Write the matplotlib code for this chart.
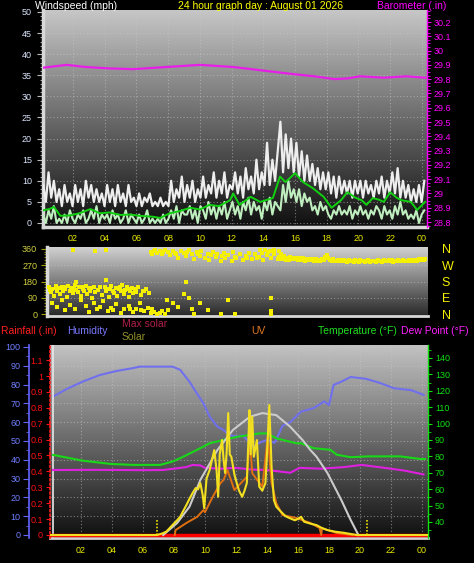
import numpy as np
import matplotlib
matplotlib.use('Agg')
import matplotlib.pyplot as plt
from matplotlib.ticker import MultipleLocator, FixedLocator

plt.rcParams['font.family'] = ['Liberation Sans', 'DejaVu Sans']

# ---------------- data ----------------
hour_ticks = [2, 4, 6, 8, 10, 12, 14, 16, 18, 20, 22, 24]
hour_labels = ['02', '04', '06', '08', '10', '12', '14', '16', '18', '20', '22', '00']

# wind gust (mph), 10-minute samples
gust = [9, 5, 12, 6, 10, 5,   8, 4, 9, 5, 7, 4,   9, 5, 8, 4, 10, 6,   9, 5, 8, 5, 7, 4,
        9, 5, 8, 4, 9, 5,     7, 4, 9, 5, 6, 4,   7, 4, 6, 5, 7, 4,    5, 4, 6, 4, 5, 4,
        10, 5, 8, 6, 11, 5,   9, 6, 10, 5, 8, 6,  11, 6, 9, 7, 12, 6,  10, 7, 12, 6, 9, 8,
        12, 7, 11, 6, 13, 8,  11, 7, 15, 8, 12, 9, 19, 9, 15, 10, 17, 24, 12, 21, 13, 20, 12, 19,
        11, 17, 10, 16, 10, 14, 9, 13, 8, 12, 8, 12, 7, 11, 6, 11, 7, 10, 7, 10, 6, 10, 7, 10,
        6, 10, 7, 9, 6, 10,   7, 11, 6, 10, 7, 12, 7, 13, 6, 10, 6, 9,  5, 8, 5, 9, 5, 10]
# wind speed (mph), 10-minute samples
wind = [2, 0, 3, 1, 4, 0,  1, 0, 2, 0, 3, 1,  0, 2, 1, 3, 0, 1,  3, 1, 4, 0, 2, 1,
        2, 0, 3, 1, 2, 0,  1, 3, 0, 2, 1, 0,  2, 0, 1, 3, 0, 1,  0, 1, 0, 2, 0, 1,
        3, 1, 4, 0, 3, 2,  2, 4, 1, 3, 0, 4,  3, 1, 5, 2, 4, 1,  4, 2, 5, 1, 3, 5,
        2, 4, 1, 5, 3, 6,  2, 5, 3, 4, 1, 5,  3, 6, 2, 5, 4, 3,  9, 5, 10, 6, 8, 5,
        8, 4, 7, 5, 6, 3,  4, 2, 5, 3, 4, 2,  1, 3, 2, 4, 2, 3,  2, 4, 1, 3, 2, 4,
        2, 3, 1, 3, 2, 4,  3, 1, 4, 2, 3, 1,  4, 2, 5, 2, 3, 1,  2, 1, 3, 0, 2, 3]

avg_t = [0.1, 0.5, 0.8, 1.2, 1.8, 2.4, 3.1, 3.7, 4.3, 5.0, 5.6, 6.2, 7.0, 7.5, 8.1, 8.7,
         9.4, 10.0, 10.6, 11.2, 11.9, 12.1, 12.5, 13.2, 13.8, 14.6, 15.05, 15.4, 16.0, 16.5,
         17.1, 17.8, 18.3, 18.9, 19.3, 19.8, 20.2, 20.5, 20.9, 21.3, 21.6, 22.0, 22.4, 22.7,
         23.3, 23.7, 24.2]
avg = [3.0, 3.3, 3.8, 1.7, 1.8, 2.3, 3.3, 2.3, 2.5, 1.9, 2.0, 1.7, 1.5, 1.2, 2.3, 2.8,
       3.6, 3.2, 4.3, 4.0, 5.4, 7.0, 4.3, 6.2, 5.0, 5.9, 11.0, 9.7, 11.8, 9.7,
       8.3, 6.2, 3.6, 5.4, 7.3, 6.0, 5.4, 4.3, 5.9, 5.5, 5.0, 7.3, 6.0, 5.4,
       5.0, 3.1, 5.0]

baro_t = [0.1, 1.6, 2.8, 4.3, 5.8, 7.9, 10.0, 12.1, 14.0, 15.9, 17.2, 18.5, 19.3, 20.1, 21.6, 23.0, 24.2]
baro = [29.88, 29.90, 29.885, 29.875, 29.87, 29.885, 29.90, 29.885, 29.86, 29.835, 29.82,
        29.80, 29.805, 29.82, 29.81, 29.82, 29.81]

# wind direction (deg)
dir_night = [(0.5, 150), (0.6, 120), (0.7, 140), (0.8, 100), (0.9, 155), (1.0, 130), (1.1, 145),
             (1.2, 110), (1.3, 150), (1.4, 125), (1.5, 140), (1.6, 95), (1.7, 155), (1.8, 130),
             (1.9, 145), (2.0, 115), (2.1, 160), (2.2, 135), (2.3, 120), (2.4, 150), (2.5, 100),
             (2.6, 140), (2.7, 125), (2.8, 155), (2.9, 110), (3.0, 145), (3.1, 130), (3.2, 90),
             (3.3, 150), (3.4, 120), (3.6, 135), (3.8, 105), (4.0, 150), (4.1, 125), (4.2, 140),
             (4.3, 95), (4.4, 155), (4.5, 130), (4.6, 115), (4.7, 145), (4.8, 100), (4.9, 140),
             (5.0, 125), (5.1, 160), (5.2, 110), (5.3, 135), (5.4, 150), (5.5, 95), (5.6, 130),
             (5.7, 145), (5.8, 115), (5.9, 140), (6.0, 120), (6.1, 150), (6.3, 105), (6.4, 130),
             (6.6, 140), (6.8, 115), (2.0, 355), (3.4, 350), (4.1, 355), (2.2, 180), (4.1, 190),
             (0.55, 135), (0.95, 145), (1.45, 150), (2.05, 140), (2.65, 150), (3.15, 145),
             (3.7, 150), (4.35, 140), (4.95, 150), (5.45, 140), (5.95, 135), (6.5, 125)]
dir_low = [(0.7, 60), (1.0, 40), (1.3, 75), (1.5, 20), (1.8, 50), (2.1, 30), (2.5, 80), (2.8, 45),
           (3.0, 10), (3.3, 60), (3.5, 25), (3.7, 40), (3.9, 70), (4.2, 15), (4.4, 35), (4.7, 55),
           (5.0, 5), (5.2, 30), (5.5, 45), (5.8, 10), (6.0, 25), (6.2, 60), (6.5, 15), (6.7, 35),
           (6.9, 5), (7.1, 10), (7.3, 0), (7.5, 5), (7.8, 0), (8.0, 20), (8.3, 60), (8.6, 40),
           (7.9, 75), (9.0, 110), (9.1, 180), (9.3, 90), (9.5, 30), (9.6, 0), (10.0, 60),
           (10.5, 20), (11.3, 0), (11.8, 80), (12.2, 0), (14.5, 89), (14.5, 17), (14.5, 2),
           (4.5, 20), (5.6, 30), (6.3, 20), (7.0, 25), (7.6, 15)]
dir_day = [(6.9, 345), (7.0, 330), (7.2, 355), (7.3, 340), (7.5, 350), (7.6, 330), (7.8, 355),
           (8.0, 345), (8.1, 325), (8.3, 350), (8.5, 335), (8.6, 310), (8.8, 350), (9.0, 340),
           (9.1, 320), (9.3, 355), (9.5, 330), (9.6, 305), (9.8, 345), (10.0, 320), (10.1, 350),
           (10.3, 310), (10.5, 335), (10.6, 300), (10.8, 345), (11.0, 315), (11.1, 330),
           (11.3, 295), (11.5, 340), (11.6, 310), (11.8, 325), (12.0, 295), (12.1, 345),
           (12.3, 310), (12.5, 330), (12.7, 300), (12.9, 320), (13.1, 340), (13.3, 305),
           (13.5, 330), (13.7, 315), (13.9, 340), (14.0, 300), (14.2, 325), (14.3, 345),
           (14.5, 310), (14.7, 330), (14.9, 305), (13.8, 352), (14.1, 355), (14.4, 348),
           (14.7, 356), (15.0, 350), (7.1, 350), (7.7, 345), (8.4, 340), (9.2, 345),
           (9.9, 335), (10.7, 325), (11.4, 320), (12.2, 318), (13.0, 312), (13.6, 310)]
dir_late_t = np.round(np.arange(150, 243) / 10, 1)
dir_late = [315, 330, 305, 320, 300, 312, 298, 318, 305, 310,
            302, 312, 298, 308, 300, 310, 296, 306, 300, 304,
            298, 306, 296, 302, 294, 300, 296, 304, 298, 318,
            325, 312, 300, 294, 302, 296, 292, 300, 294, 298,
            292, 300, 294, 290, 298, 292, 296, 290, 298, 294,
            290, 298, 292, 296, 290, 294, 298, 290, 296, 292,
            296, 290, 298, 292, 295, 290, 298, 294, 291, 297,
            293, 298, 290, 296, 292, 298, 294, 291, 297, 293,
            296, 292, 299, 294, 297, 293, 300, 296, 302, 298,
            304, 300, 306]

hum_t = [0.2, 1.1, 2.1, 3.2, 4.3, 5.35, 5.8, 7.9, 8.4, 9.0, 9.5, 9.9, 10.3, 10.8, 11.2, 11.6,
         12.1, 12.45, 13.1, 13.5, 14.0, 14.5, 15.0, 15.5, 16.2, 17.0, 17.7, 18.0, 18.3, 18.8,
         19.4, 20.4, 21.3, 22.2, 23.3, 24.1]
hum = [73.6, 77.7, 81.5, 85.0, 87.2, 88.7, 89.5, 89.5, 87.8, 81.5, 75.0, 70.0, 63.0, 57.6, 55.8,
       53.0, 52.3, 53.0, 47.0, 49.0, 50.5, 49.0, 58.0, 60.0, 65.6, 67.4, 71.0, 69.0, 79.8, 81.5,
       84.0, 83.0, 80.8, 78.0, 77.0, 74.5]

temp_t = [0.2, 2.1, 3.9, 5.4, 6.45, 7.1, 7.9, 8.6, 9.7, 10.3, 11.2, 12.1, 12.9, 13.5, 14.0,
          14.6, 15.9, 16.2, 17.0, 18.1, 18.5, 19.4, 20.5, 22.6, 23.9, 24.2]
temp = [80.9, 77.4, 75.4, 74.8, 74.8, 74.8, 76.8, 79.8, 85.0, 88.0, 90.0, 92.0, 93.0, 94.0, 94.0,
        91.0, 88.0, 88.0, 85.0, 84.0, 81.0, 79.5, 80.0, 80.0, 78.4, 78.4]

dew_t = [0.2, 3.0, 6.0, 7.3, 8.0, 8.8, 9.2, 9.7, 10.0, 11.0, 12.0, 13.0, 14.0, 15.5, 16.1,
         17.5, 19.0, 20.1, 21.6, 22.9, 24.1]
dew = [71.7, 71.8, 71.6, 71.7, 72.5, 73.5, 74.8, 74.5, 73.0, 72.5, 73.0, 72.0, 71.7, 70.0, 73.0,
       72.5, 73.5, 74.8, 73.0, 71.3, 69.0]

maxsol_t = [7.3, 8.2, 9.0, 9.7, 10.8, 11.8, 12.9, 13.7, 14.6, 15.5, 16.3, 16.8, 17.2, 17.9,
            18.8, 19.4, 19.9]
maxsol = [0, 89, 211, 410, 633, 782, 881, 908, 893, 806, 707, 633, 583, 462, 260, 112, 0]

sol_t = [0.0, 6.9, 7.2, 7.5, 7.9, 8.2, 8.4, 8.6, 8.8, 9.0, 9.2, 9.4, 9.55, 9.7, 9.85, 9.95,
         10.1, 10.3, 10.45, 10.6, 10.75, 10.85, 10.95, 11.1, 11.2, 11.3, 11.4, 11.5, 11.6, 11.7,
         11.9, 12.05, 12.2, 12.4, 12.55, 12.7, 12.8, 12.87, 12.95, 13.05, 13.15, 13.35, 13.5,
         13.7, 13.9, 14.0, 14.15, 14.3, 14.45, 14.6, 14.9, 15.2, 15.5, 15.8, 16.0, 16.2, 16.4,
         16.8, 17.2, 17.5, 17.9, 18.4, 18.95, 19.4, 19.8, 24.4]
sol = [0, 0, 10, 25, 74, 110, 136, 180, 223, 270, 313, 350, 340, 387, 300, 200,
       420, 484, 560, 633, 480, 285, 600, 707, 560, 462, 620, 908, 600, 583,
       450, 387, 330, 285, 330, 387, 700, 930, 600, 880, 583, 707, 360,
       330, 387, 600, 968, 500, 260, 211, 174, 140, 124, 110, 120, 136, 99,
       85, 74, 55, 37, 25, 17, 8, 0, 0]

uv_t = [8.05, 8.1, 8.8, 9.5, 9.9, 10.0, 10.5, 11.0, 11.2, 11.45, 11.9, 12.7, 12.9, 13.05, 13.7,
        14.05, 14.3, 14.6, 15.0, 15.9, 16.8, 17.4, 17.5, 17.55, 17.9, 18.5, 19.5]
uv = [0.0, 0.37, 0.9, 1.36, 1.86, 1.7, 2.85, 3.87, 4.1, 4.84, 3.35, 4.34, 7.07, 4.6, 3.6,
      7.3, 3.87, 2.38, 1.49, 1.27, 0.9, 0.52, 0.0, 0.5, 0.37, 0.15, 0.0]

rain_t = [0.0, 24.4]
rain = [0.0, 0.0]

sun_events = [6.9, 20.45]

# ---------------- layout helpers ----------------
W, H = 474, 563
fig = plt.figure(figsize=(W / 100, H / 100), dpi=100, facecolor='black')


def rect(l, t, r, b):
    return [l / W, 1 - b / H, (r - l) / W, (b - t) / H]


def gradient(ax, top, bottom):
    x0, x1 = ax.get_xlim()
    y0, y1 = ax.get_ylim()
    g = np.linspace(top, bottom, 256)[:, None]
    ax.imshow(g, cmap='gray', vmin=0, vmax=1, aspect='auto', extent=(x0, x1, y0, y1),
              origin='upper', zorder=0, interpolation='bilinear')
    ax.set_xlim(x0, x1)
    ax.set_ylim(y0, y1)


GRID = dict(color='#c8c8c8', alpha=0.55, lw=0.8, ls=(0, (1, 2)))
YEL = '#e8e800'
TS = 6.5
LS = 7.5

# ---------------- top panel: wind + barometer ----------------
ax1 = fig.add_axes(rect(43, 10, 427, 227))
ax1.set_xlim(0.107, 24.32)
ax1.set_ylim(-0.95, 50.47)
gradient(ax1, 0.78, 0.06)
ax1.yaxis.set_major_locator(MultipleLocator(5))
ax1.yaxis.set_minor_locator(MultipleLocator(1))
ax1.set_xticks(hour_ticks, hour_labels)
ax1.grid(True, which='major', **GRID)
t10 = np.linspace(0.12, 24.15, len(gust))
ax1.plot(t10, gust, color='#eeeeee', lw=1.6, zorder=3)
ax1.plot(t10, wind, color='#bfeebf', lw=1.5, zorder=4)
ax1.plot(avg_t, avg, color='#10d010', lw=1.4, zorder=5)
for s in ['top', 'right']:
    ax1.spines[s].set_visible(False)
for s in ['left', 'bottom']:
    ax1.spines[s].set_color('#d8d8d8')
    ax1.spines[s].set_linewidth(2.5)
ax1.tick_params(axis='y', which='both', colors='#bcbcbc', labelcolor='#dce6ff', labelsize=TS, pad=4)
ax1.tick_params(axis='y', which='major', length=4)
ax1.tick_params(axis='y', which='minor', length=2.5)
ax1.tick_params(axis='x', length=0, labelcolor=YEL, labelsize=TS, pad=5)

ax1b = ax1.twinx()
ax1b.set_ylim(28.765, 30.284)
ax1b.plot(baro_t, baro, color='#e81ee8', lw=1.6, zorder=6)
bt = np.round(np.arange(28.8, 30.21, 0.1), 1)
ax1b.set_yticks(bt, [f'{v:g}' for v in bt])
ax1b.yaxis.set_minor_locator(MultipleLocator(0.025))
ax1b.tick_params(axis='y', which='both', colors='#ff00ff', labelsize=TS, pad=2)
ax1b.tick_params(axis='y', which='major', length=3)
ax1b.tick_params(axis='y', which='minor', length=2)
for s in ['top', 'left', 'bottom']:
    ax1b.spines[s].set_visible(False)
ax1b.spines['right'].set_color('#ff00ff')
ax1b.spines['right'].set_linewidth(1.0)

# ---------------- middle panel: wind direction ----------------
ax2 = fig.add_axes(rect(47, 247, 428, 316))
ax2.set_xlim(0.36, 24.38)
ax2.set_ylim(-11, 371)
gradient(ax2, 0.82, 0.16)
for v in [90, 180, 270]:
    ax2.axhline(v, **GRID, zorder=1)
dt = [p[0] for p in dir_night + dir_low + dir_day]
dv = [p[1] for p in dir_night + dir_low + dir_day]
ax2.scatter(dt, dv, s=5, marker='s', color='#f4f000', linewidths=0, zorder=3)
ax2.plot(dir_late_t, dir_late, color='#f4f000', lw=2.2, zorder=3)
ax2.scatter(dir_late_t, dir_late, s=6, marker='s', color='#f4f000', linewidths=0, zorder=3)
ax2.set_yticks([0, 90, 180, 270, 360], ['0', '90', '180', '270', '360'])
ax2.yaxis.set_minor_locator(MultipleLocator(15))
ax2.set_xticks([])
ax2.tick_params(axis='y', which='both', colors='#a0a000', labelcolor='#d0d040', labelsize=TS, pad=3)
ax2.tick_params(axis='y', which='major', length=4)
ax2.tick_params(axis='y', which='minor', length=2.5)
for s in ['top', 'right']:
    ax2.spines[s].set_visible(False)
ax2.spines['left'].set_color('#d8d8d8')
ax2.spines['left'].set_linewidth(2.5)
ax2.spines['bottom'].set_color('#d8d8d8')
ax2.spines['bottom'].set_linewidth(2)
ax2b = ax2.twinx()
ax2b.set_ylim(-11, 371)
ax2b.set_yticks([0, 90, 180, 270, 360], ['N', 'E', 'S', 'W', 'N'])
ax2b.tick_params(axis='y', length=0, labelcolor='#f4f000', labelsize=9, pad=10)
for s in ax2b.spines.values():
    s.set_visible(False)

# ---------------- bottom panel ----------------
R3 = rect(50, 345, 428, 538)
ax3 = fig.add_axes(R3)
ax3.set_xlim(0.0, 24.39)
ax3.set_ylim(-1.6, 101)
gradient(ax3, 0.76, 0.06)
ax3.yaxis.set_major_locator(FixedLocator(list(range(0, 101, 10))))
ax3.yaxis.set_minor_locator(MultipleLocator(5))
ax3.set_xticks(hour_ticks, hour_labels)
ax3.grid(True, which='major', **GRID)
ax3.plot(hum_t, hum, color='#7070ee', lw=1.5, zorder=3)
for s in ['top', 'right']:
    ax3.spines[s].set_visible(False)
ax3.spines['left'].set_position(('axes', -21 / 378))
ax3.spines['left'].set_color('#6464ff')
ax3.spines['left'].set_linewidth(1.2)
ax3.spines['bottom'].set_color('#d0d0d0')
ax3.spines['bottom'].set_linewidth(2)
ax3.tick_params(axis='y', which='both', colors='#6464ff', labelcolor='#6f7fff', labelsize=TS, pad=2)
ax3.tick_params(axis='y', which='major', length=4)
ax3.tick_params(axis='y', which='minor', length=2)
ax3.tick_params(axis='x', length=0, labelcolor=YEL, labelsize=TS, pad=6)
ax3.plot([0.008, 0.008], [0, 1], transform=ax3.transAxes, color='#e8e8e8', lw=1.2, zorder=6)

# rainfall axis
ax3r = fig.add_axes(R3, sharex=ax3, facecolor='none')
ax3r.set_ylim(-0.019, 1.195)
ax3r.plot(rain_t, rain, color='#ff0000', lw=2.5, zorder=3, solid_capstyle='butt')
rt = np.round(np.arange(0, 1.11, 0.1), 1)
ax3r.set_yticks(rt, [f'{v:g}' for v in rt])
ax3r.tick_params(axis='y', colors='#ff1010', labelsize=TS, length=3, pad=2)
ax3r.tick_params(axis='x', bottom=False, labelbottom=False)
for s in ['top', 'right', 'bottom']:
    ax3r.spines[s].set_visible(False)
ax3r.spines['left'].set_color('#ff2020')
ax3r.spines['left'].set_linestyle(':')
ax3r.spines['left'].set_linewidth(1.2)

# temperature / dew point axis
ax3t = fig.add_axes(R3, sharex=ax3, facecolor='none')
ax3t.set_ylim(30.24, 147.9)
ax3t.plot(temp_t, temp, color='#18d818', lw=1.5, zorder=3)
ax3t.plot(dew_t, dew, color='#e020e0', lw=1.5, zorder=3)
ax3t.yaxis.tick_right()
ax3t.yaxis.set_major_locator(FixedLocator(list(range(40, 141, 10))))
ax3t.yaxis.set_minor_locator(MultipleLocator(5))
ax3t.tick_params(axis='y', which='both', colors='#10e010', labelsize=TS, pad=2)
ax3t.tick_params(axis='y', which='major', length=3)
ax3t.tick_params(axis='y', which='minor', length=2)
ax3t.tick_params(axis='x', bottom=False, labelbottom=False)
for s in ['top', 'left', 'bottom']:
    ax3t.spines[s].set_visible(False)
ax3t.spines['right'].set_color('#10e010')
ax3t.spines['right'].set_linewidth(1.0)

# UV axis
ax3u = fig.add_axes(R3, sharex=ax3, facecolor='none')
ax3u.set_ylim(-0.22, 14.15)
ax3u.plot(uv_t, uv, color='#e07010', lw=1.4, zorder=3)
ax3u.set_yticks([])
ax3u.tick_params(axis='x', bottom=False, labelbottom=False)
for s in ax3u.spines.values():
    s.set_visible(False)

# solar axis
ax3s = fig.add_axes(R3, sharex=ax3, facecolor='none')
ax3s.set_ylim(-22, 1415)
ax3s.plot(maxsol_t, maxsol, color='#cccccc', lw=1.5, zorder=2)
ax3s.plot(sol_t, sol, color='#f2e020', lw=1.5, zorder=3)
ax3s.vlines(sun_events, 0, 110, colors='#f0e000', linestyles=(0, (1, 1)), lw=1.2, zorder=4)
ax3s.set_yticks([])
ax3s.tick_params(axis='x', bottom=False, labelbottom=False)
for s in ax3s.spines.values():
    s.set_visible(False)

# ---------------- texts ----------------
def ftext(x, y, s, color, ha='left', size=LS):
    fig.text(x / W, 1 - y / H, s, color=color, ha=ha, va='center', fontsize=size)


ftext(35, 6, 'Windspeed (mph)', '#ffffff')
ftext(260, 6, '24 hour graph day : August 01 2026', '#ffff00', ha='center')
ftext(446, 6, 'Barometer (.in)', '#ff00ff', ha='right')

ftext(1, 331, 'Rainfall (.in)', '#ff2020')
ftext(67, 331, 'Humidity', '#7878ff')
ftext(122, 324, 'Max solar', '#b0204c')
ftext(122, 337, 'Solar', '#909028')
ftext(251, 331, 'UV', '#e07820')
ftext(318, 331, 'Temperature (°F)', '#20e020')
ftext(401, 331, 'Dew Point (°F)', '#ff20ff')

fig.savefig('out.png', dpi=100, facecolor='black')
